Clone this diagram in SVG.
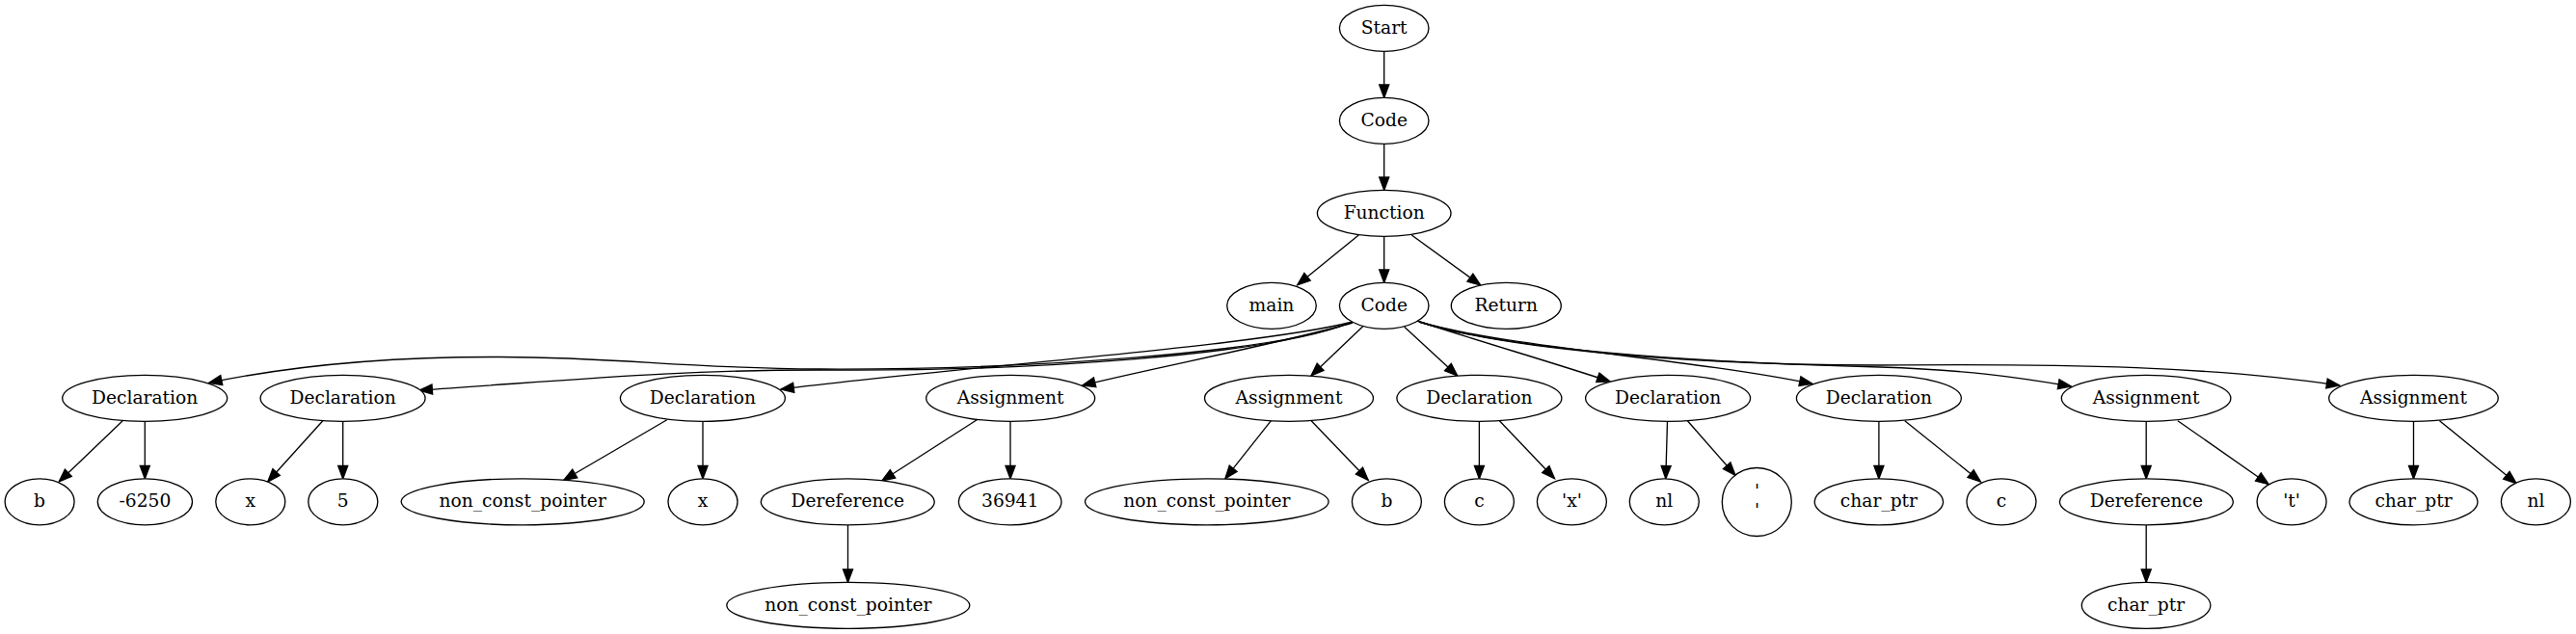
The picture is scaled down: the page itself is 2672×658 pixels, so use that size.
<svg xmlns="http://www.w3.org/2000/svg" width="2672" height="658" viewBox="0 0 2672 658">
<style>
  ellipse { fill: #ffffff; stroke: #000000; stroke-width: 1.33; }
  text { font-family: "DejaVu Serif", "Liberation Serif", serif; font-size: 18.67px; text-anchor: middle; fill: #000000; }
  .e { fill: none; stroke: #000000; stroke-width: 1.33; marker-end: url(#arr); }
</style>
<defs>
  <marker id="arr" markerUnits="userSpaceOnUse" markerWidth="16" markerHeight="12" refX="13.33" refY="5" orient="auto" overflow="visible">
    <path d="M0,0 L13.33,5 L0,10 z" fill="#000000" stroke="#000000" stroke-width="1.33"/>
  </marker>
</defs>
<rect width="2672" height="658" fill="#ffffff"/>

<g id="connectors">
  <path class="e" d="M1435.7,53.3 L1435.7,101.3"/>
  <path class="e" d="M1435.7,149.3 L1435.7,197.3"/>
  <path class="e" d="M1409.3,244 L1345.7,295.7"/>
  <path class="e" d="M1435.7,245.3 L1435.7,293.3"/>
  <path class="e" d="M1464.3,244 L1535.7,296"/>

  <path class="e" d="M1403,334 C1320,368 1050,384 850,383 C700,382 650,371 520,370.5 C400,370 300,380 216.7,397.3"/>
  <path class="e" d="M1403,334 C1320,369 1060,386 850,384 C700,384 600,394 435,405"/>
  <path class="e" d="M1403,334 C1300,360 1000,380 810,404"/>
  <path class="e" d="M1403,335 C1330,356 1200,381 1122.7,400"/>
  <path class="e" d="M1413.9,338.5 L1360,390"/>
  <path class="e" d="M1456.7,339.3 L1511.7,390"/>
  <path class="e" d="M1470,333 C1540,356 1610,376 1670,396"/>
  <path class="e" d="M1472,334 C1560,360 1750,372 1880,398.3"/>
  <path class="e" d="M1472,334 C1560,362 1750,376 1950,381 C2040,384 2090,391 2148.3,401"/>
  <path class="e" d="M1472,334 C1560,362 1750,379 1950,379 C2150,377 2300,381 2426.7,400"/>

  <path class="e" d="M127.2,436.7 L61.2,500"/>
  <path class="e" d="M150.3,437.3 L150.3,496.8"/>
  <path class="e" d="M334.8,436.7 L277.7,500"/>
  <path class="e" d="M355.7,437.3 L355.7,496.8"/>
  <path class="e" d="M691.8,435.7 L584.8,498.3"/>
  <path class="e" d="M729,437.3 L729,496.8"/>
  <path class="e" d="M1013.3,435.7 L914.8,499"/>
  <path class="e" d="M1048,437.3 L1048,496.8"/>
  <path class="e" d="M879.5,544.8 L879.5,604.3"/>
  <path class="e" d="M1318.4,436.7 L1270.9,496.7"/>
  <path class="e" d="M1360.2,436.7 L1419.2,498.3"/>
  <path class="e" d="M1534.4,437.3 L1534.4,496.8"/>
  <path class="e" d="M1555.4,436.7 L1612.5,496.7"/>
  <path class="e" d="M1729.5,437.3 L1727.8,496.8"/>
  <path class="e" d="M1750.4,436.7 L1800,493.3"/>
  <path class="e" d="M1948.9,437.3 L1948.9,496.8"/>
  <path class="e" d="M1975.8,436.7 L2054.5,500"/>
  <path class="e" d="M2226.2,437.3 L2226.2,496.8"/>
  <path class="e" d="M2258.9,436.7 L2353.3,502.7"/>
  <path class="e" d="M2226.2,544.8 L2226.2,604.3"/>
  <path class="e" d="M2503.5,437.3 L2503.5,496.8"/>
  <path class="e" d="M2530.5,436.7 L2610.2,501.7"/>
</g>

<g id="n_start"><ellipse cx="1435.7" cy="29.3" rx="46.3" ry="24"/><text x="1435.7" y="34.6">Start</text></g>
<g id="n_code1"><ellipse cx="1435.7" cy="125.3" rx="46.3" ry="24"/><text x="1435.7" y="130.6">Code</text></g>
<g id="n_function"><ellipse cx="1435.7" cy="221.3" rx="69.3" ry="24"/><text x="1435.7" y="226.6">Function</text></g>
<g id="n_main"><ellipse cx="1319" cy="317.3" rx="46.3" ry="24"/><text x="1319" y="322.6">main</text></g>
<g id="n_code2"><ellipse cx="1435.7" cy="317.3" rx="46.3" ry="24"/><text x="1435.7" y="322.6">Code</text></g>
<g id="n_return"><ellipse cx="1562.3" cy="317.3" rx="57" ry="24"/><text x="1562.3" y="322.6">Return</text></g>

<g id="n_decl1"><ellipse cx="150.2" cy="413.3" rx="85.5" ry="24"/><text x="150.2" y="418.6">Declaration</text></g>
<g id="n_decl2"><ellipse cx="355.6" cy="413.3" rx="85.5" ry="24"/><text x="355.6" y="418.6">Declaration</text></g>
<g id="n_decl3"><ellipse cx="728.9" cy="413.3" rx="85.5" ry="24"/><text x="728.9" y="418.6">Declaration</text></g>
<g id="n_asg1"><ellipse cx="1048.2" cy="413.3" rx="87.5" ry="24"/><text x="1048.2" y="418.6">Assignment</text></g>
<g id="n_asg2"><ellipse cx="1337" cy="413.3" rx="87.5" ry="24"/><text x="1337" y="418.6">Assignment</text></g>
<g id="n_decl4"><ellipse cx="1534.4" cy="413.3" rx="85.5" ry="24"/><text x="1534.4" y="418.6">Declaration</text></g>
<g id="n_decl5"><ellipse cx="1730.1" cy="413.3" rx="85.5" ry="24"/><text x="1730.1" y="418.6">Declaration</text></g>
<g id="n_decl6"><ellipse cx="1948.9" cy="413.3" rx="85.5" ry="24"/><text x="1948.9" y="418.6">Declaration</text></g>
<g id="n_asg3"><ellipse cx="2226.1" cy="413.3" rx="87.8" ry="24"/><text x="2226.1" y="418.6">Assignment</text></g>
<g id="n_asg4"><ellipse cx="2503.5" cy="413.3" rx="87.8" ry="24"/><text x="2503.5" y="418.6">Assignment</text></g>

<g id="n_b1"><ellipse cx="41.1" cy="520.8" rx="36" ry="24"/><text x="41.1" y="526.1">b</text></g>
<g id="n_m6250"><ellipse cx="150.4" cy="520.8" rx="49.1" ry="24"/><text x="150.4" y="526.1">-6250</text></g>
<g id="n_x1"><ellipse cx="259.8" cy="520.8" rx="36" ry="24"/><text x="259.8" y="526.1">x</text></g>
<g id="n_5"><ellipse cx="355.8" cy="520.8" rx="36" ry="24"/><text x="355.8" y="526.1">5</text></g>
<g id="n_ncp1"><ellipse cx="542.2" cy="520.8" rx="126" ry="24"/><text x="542.2" y="526.1">non_const_pointer</text></g>
<g id="n_x2"><ellipse cx="729" cy="520.8" rx="36" ry="24"/><text x="729" y="526.1">x</text></g>
<g id="n_deref1"><ellipse cx="879.3" cy="520.8" rx="90" ry="24"/><text x="879.3" y="526.1">Dereference</text></g>
<g id="n_36941"><ellipse cx="1047.7" cy="520.8" rx="53.3" ry="24"/><text x="1047.7" y="526.1">36941</text></g>
<g id="n_ncp2"><ellipse cx="1251.8" cy="520.8" rx="126.3" ry="24"/><text x="1251.8" y="526.1">non_const_pointer</text></g>
<g id="n_b2"><ellipse cx="1438.4" cy="520.8" rx="36" ry="24"/><text x="1438.4" y="526.1">b</text></g>
<g id="n_c1"><ellipse cx="1534.4" cy="520.8" rx="36" ry="24"/><text x="1534.4" y="526.1">c</text></g>
<g id="n_xch"><ellipse cx="1630.4" cy="520.8" rx="36" ry="24"/><text x="1630.4" y="526.1">'x'</text></g>
<g id="n_nl1"><ellipse cx="1726.3" cy="520.8" rx="36" ry="24"/><text x="1726.3" y="526.1">nl</text></g>
<g id="n_newline"><ellipse cx="1822.3" cy="521" rx="36" ry="35.5"/><text x="1822.5" y="515.5">'</text><text x="1822.5" y="535.5">'</text></g>
<g id="n_cp1"><ellipse cx="1948.9" cy="520.8" rx="66.7" ry="24"/><text x="1948.9" y="526.1">char_ptr</text></g>
<g id="n_c2"><ellipse cx="2076" cy="520.8" rx="36" ry="24"/><text x="2076" y="526.1">c</text></g>
<g id="n_deref2"><ellipse cx="2226.4" cy="520.8" rx="90" ry="24"/><text x="2226.4" y="526.1">Dereference</text></g>
<g id="n_tch"><ellipse cx="2377.1" cy="520.8" rx="36" ry="24"/><text x="2377.1" y="526.1">'t'</text></g>
<g id="n_cp2"><ellipse cx="2503.5" cy="520.8" rx="66.5" ry="24"/><text x="2503.5" y="526.1">char_ptr</text></g>
<g id="n_nl2"><ellipse cx="2630.4" cy="520.8" rx="36" ry="24"/><text x="2630.4" y="526.1">nl</text></g>

<g id="n_ncp3"><ellipse cx="879.8" cy="628.3" rx="126" ry="24"/><text x="879.8" y="633.6">non_const_pointer</text></g>
<g id="n_cp3"><ellipse cx="2226.1" cy="628.3" rx="66.8" ry="24"/><text x="2226.1" y="633.6">char_ptr</text></g>
</svg>
